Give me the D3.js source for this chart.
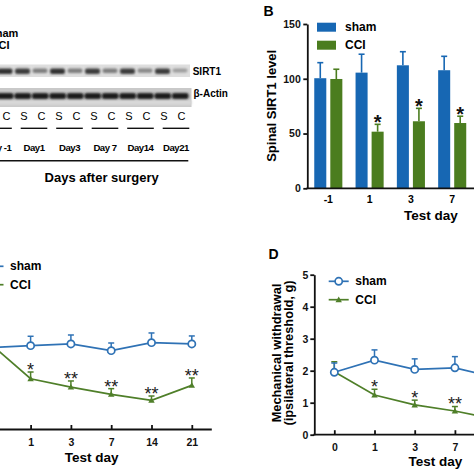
<!DOCTYPE html>
<html><head><meta charset="utf-8">
<script src="https://cdn.jsdelivr.net/npm/d3@7"></script>
<style>body{margin:0;background:#fff} svg{display:block} text{font-family:"Liberation Sans",Arial,sans-serif}</style>
</head><body><svg id="c" width="474" height="474"></svg>
<script>
// ---------- Panel A (western blot) ----------
const blotLanes = ["S","C","S","C","S","C","S","C","S","C","S","C"];
const blotDays = ["Day -1","Day1","Day3","Day 7","Day14","Day21"];
const sirt1Band = [0.85,0.85,0.8,0.5,0.85,0.5,0.8,0.5,0.8,0.45,0.8,0.35];
const actinBand = [0.95,0.95,0.95,0.95,0.95,0.95,0.95,0.95,0.95,0.95,0.95,0.95];
// ---------- Panel B (bars) ----------
const barDays = ["-1","1","3","7"];
const barSham = [100.5,105.6,112.3,107.8];
const barShamErr = [14.2,16.8,12.4,12.7];
const barCCI = [99.8,51.7,61.2,59.6];
const barCCIErr = [8.9,6.7,11.8,6.2];
const barSig = ["","*","*","*"];
const barTicks = [0,50,100,150];
// ---------- Panel C (lines) ----------
const cDays = ["0","1","3","7","14","21"];
const cSham = [7.67,7.86,8.02,7.39,8.14,8.02];
const cShamErr = [0.8,0.88,0.84,0.72,0.91,0.75];
const cCCI = [8.05,4.76,3.98,3.30,2.74,4.14];
const cCCIErr = [0.6,0.63,0.57,0.53,0.40,0.69];
const cSig = ["","*","**","**","**","**"];
// ---------- Panel D (lines) ----------
const dDays = ["0","1","3","7","14","21"];
const dSham = [1.95,2.33,2.04,2.09,1.79,1.95];
const dShamErr = [0.29,0.32,0.33,0.35,0.30,0.30];
const dCCI = [1.97,1.24,0.93,0.74,0.48,0.70];
const dCCIErr = [0.31,0.18,0.15,0.14,0.12,0.15];
const dSig = ["","*","*","**","**","**"];
const dTicks = [0,1,2,3,4,5];

const BLUE = "#1767b3", GREEN = "#4b7d1f";
const LBLUE = "#2f72b5", LGREEN = "#4f7f29";
const svg = d3.select("#c");
const defs = svg.append("defs");
defs.append("filter").attr("id","blur").attr("x","-30%").attr("y","-60%").attr("width","160%").attr("height","220%")
  .append("feGaussianBlur").attr("stdDeviation",0.9);

// ================= Panel A =================
const A = svg.append("g");
const laneX = d3.scalePoint().domain(d3.range(blotLanes.length)).range([-12.5,180]);
const dayX = d3.scalePoint().domain(blotDays).range([-1.5,176]);
A.append("text").attr("x",18.3).attr("y",36.7).attr("text-anchor","end").attr("font-size",11).attr("font-weight","bold").text("S: sham");
A.append("text").attr("x",9.5).attr("y",48.5).attr("text-anchor","end").attr("font-size",11).attr("font-weight","bold").text("C: CCI");
// strips
A.append("rect").attr("x",-20).attr("y",64.5).attr("width",210).attr("height",12.5).attr("fill","#dedede");
A.append("rect").attr("x",-20).attr("y",88).attr("width",211.5).attr("height",19).attr("fill","#c9c9c9");
A.append("rect").attr("x",-20).attr("y",100).attr("width",211.5).attr("height",5).attr("fill","#d8d8d8").attr("filter","url(#blur)");
A.append("g").attr("filter","url(#blur)").selectAll("rect").data(sirt1Band).join("rect")
  .attr("x",(d,i)=>laneX(i)-7.5).attr("y",68.5).attr("width",15).attr("height",(d)=>3+3*d).attr("rx",2)
  .attr("fill",d=>d3.interpolateRgb("#e8e8e8","#111")(d));
A.append("g").attr("filter","url(#blur)").selectAll("rect").data(actinBand).join("rect")
  .attr("x",(d,i)=>laneX(i)-8).attr("y",93).attr("width",16.5).attr("height",6).attr("rx",2)
  .attr("fill",d=>d3.interpolateRgb("#e8e8e8","#111")(d));
A.append("text").attr("x",192.7).attr("y",75).attr("font-size",10).attr("font-weight","bold").text("SIRT1");
A.append("text").attr("x",193.5).attr("y",97).attr("font-size",10).attr("font-weight","bold").text("β-Actin");
A.append("g").selectAll("text").data(blotLanes).join("text")
  .attr("x",(d,i)=>laneX(i)+1.5).attr("y",119.5).attr("text-anchor","middle").attr("font-size",11).text(d=>d);
A.append("g").selectAll("line").data(blotDays).join("line")
  .attr("x1",d=>dayX(d)-13.3).attr("x2",d=>dayX(d)+13.3).attr("y1",128.3).attr("y2",128.3)
  .attr("stroke","#111").attr("stroke-width",1.4);
A.append("g").selectAll("text").data(blotDays).join("text")
  .attr("x",d=>dayX(d)).attr("y",150.5).attr("text-anchor","middle").attr("font-size",9.6).attr("font-weight","bold")
  .attr("letter-spacing",-0.5).text(d=>d);
A.append("line").attr("x1",-20).attr("x2",188.3).attr("y1",160.7).attr("y2",160.7).attr("stroke","#111").attr("stroke-width",1.4);
A.append("text").attr("x",101.7).attr("y",181.7).attr("text-anchor","middle").attr("font-size",13).attr("font-weight","bold").text("Days after surgery");

// ================= Panel B =================
const B = svg.append("g");
const xB = d3.scaleBand().domain(barDays).range([307.65,472.85]).paddingInner(0.32).paddingOuter(0.16);
const xBi = d3.scaleBand().domain(["sham","CCI"]).range([0,xB.bandwidth()]).paddingInner(0.25);
const yB = d3.scaleLinear().domain([0,150]).range([188.3,24]);
B.append("text").attr("x",263.5).attr("y",15.7).attr("font-size",14).attr("font-weight","bold").text("B");
const series = [
  {k:"sham",v:barSham,e:barShamErr,c:BLUE},
  {k:"CCI",v:barCCI,e:barCCIErr,c:GREEN}];
series.forEach(s=>{
  const g = B.append("g");
  barDays.forEach((d,i)=>{
    const x0 = xB(d)+xBi(s.k), w = xBi.bandwidth(), cx = x0+w/2;
    g.append("rect").attr("x",x0).attr("y",yB(s.v[i])).attr("width",w).attr("height",yB(0)-yB(s.v[i])).attr("fill",s.c);
    g.append("line").attr("x1",cx).attr("x2",cx).attr("y1",yB(s.v[i])).attr("y2",yB(s.v[i]+s.e[i])).attr("stroke",s.c).attr("stroke-width",1.6);
    g.append("line").attr("x1",cx-3).attr("x2",cx+3).attr("y1",yB(s.v[i]+s.e[i])).attr("y2",yB(s.v[i]+s.e[i])).attr("stroke",s.c).attr("stroke-width",1.6);
    if(s.k==="CCI" && barSig[i]) {
      g.append("text").attr("x",cx).attr("y",yB(s.v[i]+s.e[i])-7+11.4).attr("text-anchor","middle")
       .attr("font-size",20).attr("font-weight","bold").attr("fill","#111").text(barSig[i]);
    }
  });
});
const axB = B.append("g").attr("transform","translate(307.3,0)")
  .call(d3.axisLeft(yB).tickValues(barTicks).tickSize(4).tickSizeOuter(0).tickPadding(2.5));
axB.selectAll("text").attr("font-size",10.5).attr("font-weight","bold").attr("fill","#111").attr("font-family",null);
axB.selectAll("line,path").attr("stroke","#111").attr("stroke-width",1.8);
B.append("line").attr("x1",306.4).attr("x2",480).attr("y1",yB(0)).attr("y2",yB(0)).attr("stroke","#111").attr("stroke-width",1.8);
B.append("g").selectAll("text").data(barDays).join("text")
  .attr("x",d=>xB(d)+xB.bandwidth()/2).attr("y",203.3).attr("text-anchor","middle").attr("font-size",10.5).attr("font-weight","bold").text(d=>d);
B.append("text").attr("x",431).attr("y",220).attr("text-anchor","middle").attr("font-size",13.5).attr("font-weight","bold").text("Test day");
B.append("text").attr("transform","translate(275.5,105.8) rotate(-90)").attr("text-anchor","middle").attr("font-size",13).attr("font-weight","bold").text("Spinal SIRT1 level");
[["sham",BLUE,22.7,30.7],["CCI",GREEN,40.7,48.9]].forEach(([t,c,yy,ty])=>{
  B.append("rect").attr("x",317).attr("y",yy).attr("width",19).attr("height",9).attr("fill",c);
  B.append("text").attr("x",345).attr("y",ty).attr("font-size",12).attr("font-weight","bold").text(t);
});

// ================= line panel helper =================
function linePanel(g, days, x, y, sham, shamE, cci, cciE, sig) {
  const seriesL = [
    {v:cci,e:cciE,c:LGREEN,m:"tri"},
    {v:sham,e:shamE,c:LBLUE,m:"circ"}];
  seriesL.forEach(s=>{
    const gg = g.append("g");
    days.forEach((d,i)=>{
      const cx=x(d), top=y(s.v[i]+s.e[i]);
      gg.append("line").attr("x1",cx).attr("x2",cx).attr("y1",y(s.v[i])).attr("y2",top).attr("stroke",s.c).attr("stroke-width",1.5);
      gg.append("line").attr("x1",cx-3).attr("x2",cx+3).attr("y1",top).attr("y2",top).attr("stroke",s.c).attr("stroke-width",1.5);
    });
    gg.append("path").datum(days).attr("fill","none").attr("stroke",s.c).attr("stroke-width",1.7)
      .attr("d",d3.line().x(d=>x(d)).y((d,i)=>y(s.v[i])));
    days.forEach((d,i)=>{
      if(s.m==="circ") gg.append("circle").attr("cx",x(d)).attr("cy",y(s.v[i])).attr("r",3.6).attr("fill","#fff").attr("stroke",s.c).attr("stroke-width",1.7);
      else gg.append("path").attr("transform",`translate(${x(d)},${y(s.v[i])+0.6})`).attr("d",d3.symbol(d3.symbolTriangle,18)()).attr("fill",s.c);
    });
  });
  g.append("g").selectAll("text").data(days).join("text")
    .attr("x",d=>x(d)).attr("y",(d,i)=>y(cci[i]+cciE[i])-6.5+10.4).attr("text-anchor","middle")
    .attr("font-size",18).attr("fill","#1a1a1a").text((d,i)=>sig[i]);
}
function legend(g, x0, yS, yC) {
  [[yS,"sham",LBLUE,"circ"],[yC,"CCI",LGREEN,"tri"]].forEach(([yy,t,c,m])=>{
    g.append("line").attr("x1",x0).attr("x2",x0+20).attr("y1",yy).attr("y2",yy).attr("stroke",c).attr("stroke-width",1.7);
    if(m==="circ") g.append("circle").attr("cx",x0+10).attr("cy",yy).attr("r",3.6).attr("fill","#fff").attr("stroke",c).attr("stroke-width",1.7);
    else g.append("path").attr("transform",`translate(${x0+10},${yy+0.6})`).attr("d",d3.symbol(d3.symbolTriangle,18)()).attr("fill",c);
    g.append("text").attr("x",x0+26.6).attr("y",yy+4).attr("font-size",12).attr("font-weight","bold").text(t);
  });
}
function xAxis(g, x, yPos, x1, x2) {
  g.append("line").attr("x1",x1).attr("x2",x2).attr("y1",yPos).attr("y2",yPos).attr("stroke","#111").attr("stroke-width",1.8);
  const ax = g.append("g").attr("transform",`translate(0,${yPos})`).call(d3.axisBottom(x).tickSize(-4.5).tickSizeOuter(0).tickPadding(9.3));
  ax.select(".domain").remove();
  ax.selectAll("line").attr("stroke","#111").attr("stroke-width",1.8);
  ax.selectAll("text").attr("font-size",10.5).attr("font-weight","bold").attr("fill","#111").attr("font-family",null);
}

// ================= Panel C =================
const C = svg.append("g");
const xC = d3.scalePoint().domain(cDays).range([-9.7,191.8]);
const yC = d3.scaleLinear().domain([0,15]).range([429.5,269.5]);
xAxis(C, xC, 429.5, -40, xC("21")+20);
linePanel(C, cDays, xC, yC, cSham, cShamErr, cCCI, cCCIErr, cSig);
legend(C, -16.5, 266.3, 284.7);
C.append("text").attr("x",91.7).attr("y",462).attr("text-anchor","middle").attr("font-size",13.5).attr("font-weight","bold").text("Test day");

// ================= Panel D =================
const D = svg.append("g");
const xD = d3.scalePoint().domain(dDays).range([334.3,535.3]);
const yD = d3.scaleLinear().domain([0,5]).range([434.7,274.7]);
D.append("text").attr("x",268.5).attr("y",258.7).attr("font-size",14).attr("font-weight","bold").text("D");
xAxis(D, xD, yD(0), 313.4, 490);
const axD = D.append("g").attr("transform","translate(314.3,0)")
  .call(d3.axisLeft(yD).tickValues(dTicks).tickFormat(d3.format("d")).tickSize(4).tickSizeOuter(0).tickPadding(2));
axD.selectAll("text").attr("font-size",10.5).attr("font-weight","bold").attr("fill","#111").attr("font-family",null);
axD.selectAll("line,path").attr("stroke","#111").attr("stroke-width",1.8);
linePanel(D, dDays, xD, yD, dSham, dShamErr, dCCI, dCCIErr, dSig);
legend(D, 328.7, 281.3, 299.7);
D.append("text").attr("x",435.3).attr("y",466.3).attr("text-anchor","middle").attr("font-size",13.5).attr("font-weight","bold").text("Test day");
const yt = D.append("text").attr("transform","translate(281,353) rotate(-90)").attr("text-anchor","middle").attr("font-size",12.8).attr("font-weight","bold");
yt.append("tspan").attr("x",0).attr("y",0).text("Mechanical withdrawal");
yt.append("tspan").attr("x",0).attr("y",12).text("(ipsilateral threshold, g)");
</script></body></html>
